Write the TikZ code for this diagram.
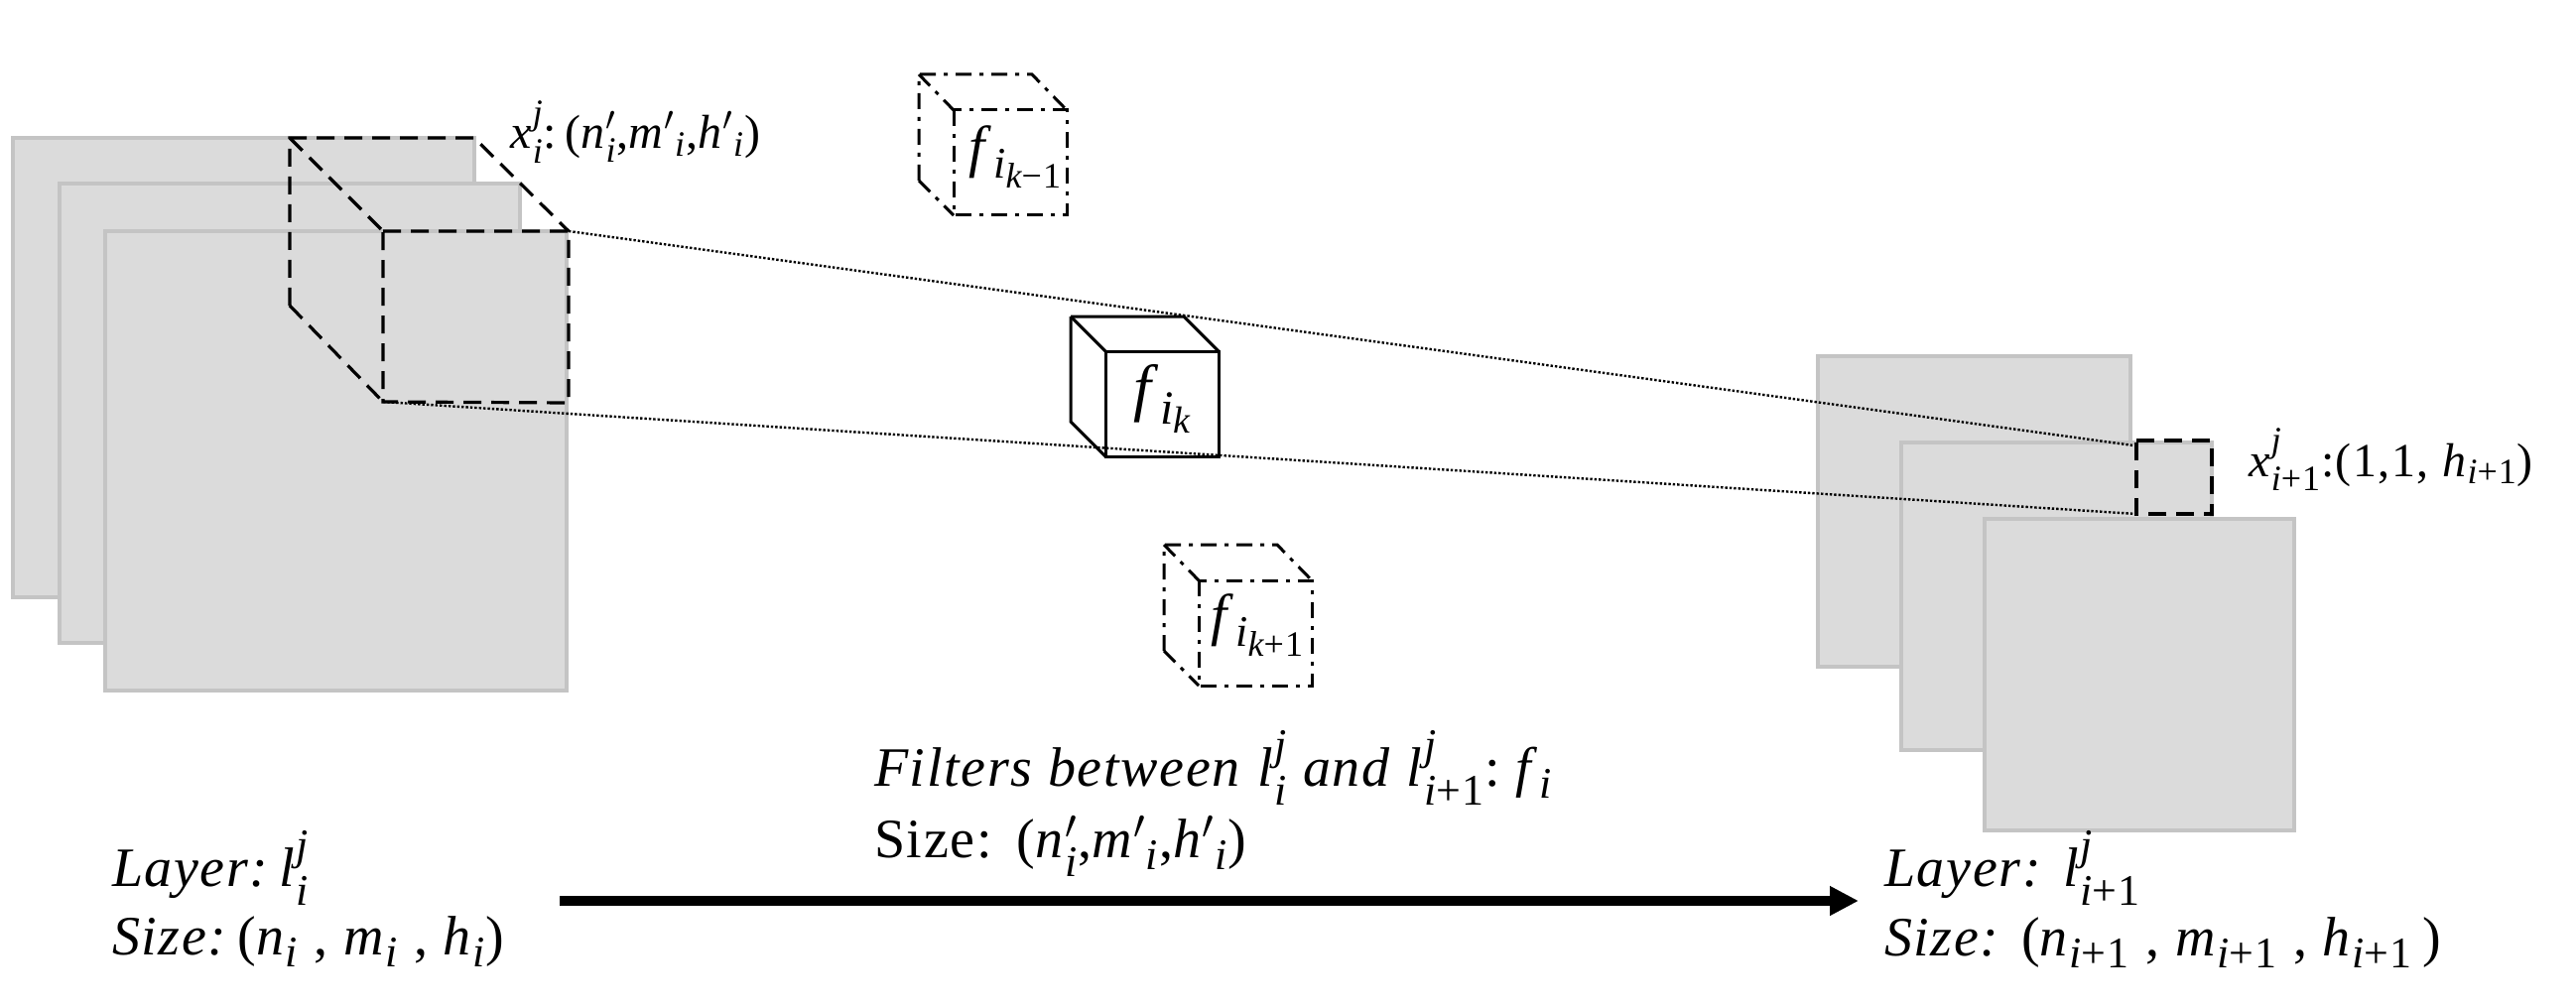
\documentclass[tikz,border=0pt]{standalone}
\usepackage{amsmath}
\usepackage{fontspec}
\setmainfont[LetterSpace=3]{Liberation Serif}
\usetikzlibrary{arrows.meta}
\definecolor{sheetfill}{HTML}{DBDBDB}
\definecolor{sheetline}{HTML}{C4C4C4}
\DeclareMathSizes{28}{28}{22}{17}
\DeclareMathSizes{24}{24}{18}{14}
\DeclareMathSizes{32}{32}{24}{19}
\DeclareMathSizes{29}{29}{22}{18}
\newcommand{\mi}[1]{\textit{#1}}
\newcommand{\ipo}{\textit{i}\textup{+1}}
\tikzset{
  sheet/.style={fill=sheetfill,draw=sheetline,line width=1.7pt},
  dashbox/.style={draw=black,line width=1.6pt,dash pattern=on 9pt off 5pt},
  dashdotbox/.style={draw=black,line width=1.5pt,dash pattern=on 8pt off 4pt on 2pt off 4pt},
  solidbox/.style={draw=black,line width=1.5pt,line join=miter},
  dotline/.style={draw=black,line width=1.2pt,dash pattern=on 1.2pt off 1pt},
  bigarrow/.style={draw=black,line width=5pt,-{Triangle[length=14.5pt,width=14pt]}},
  lab/.style={anchor=base west,inner sep=0pt,outer sep=0pt,font=\fontsize{28}{32}\selectfont},
  smalllab/.style={anchor=base west,inner sep=0pt,outer sep=0pt,font=\fontsize{24}{28}\selectfont},
  flab/.style={anchor=center,inner sep=0pt,outer sep=0pt,font=\fontsize{32}{36}\selectfont},
  flabsmall/.style={anchor=center,inner sep=0pt,outer sep=0pt,font=\fontsize{29}{34}\selectfont},
}
\begin{document}
\begin{tikzpicture}[x=0.5pt,y=-0.5pt]
\useasboundingbox (0,0) rectangle (2596,1016);
% left stack
\draw[sheet] (13,139) rectangle (478,602);
\draw[sheet] (60,185) rectangle (524,648);
\draw[sheet] (106,233) rectangle (571,696);
% right stack, back sheets
\draw[sheet] (1832,359) rectangle (2147,672);
\draw[sheet] (1916,446) rectangle (2229,756);
% receptive region on the left
\coordinate (bTL) at (292,139);
\coordinate (bTR) at (478,139);
\coordinate (bBL) at (292,308);
\coordinate (fTL) at (386,233);
\coordinate (fTR) at (573,233);
\coordinate (fBR) at (573,406);
\coordinate (fBL) at (386,405);
\draw[dashbox] (fTL) -- (fTR) -- (fBR) -- (fBL) -- cycle;
\draw[dashbox] (bBL) -- (bTL) -- (bTR) -- (fTR);
\draw[dashbox] (bTL) -- (fTL);
\draw[dashbox] (bBL) -- (fBL);
% output cell
\coordinate (oTL) at (2153,444);
\coordinate (oTR) at (2229,444);
\coordinate (oBR) at (2229,518);
\coordinate (oBL) at (2153,518);
\coordinate (oT) at (2150,449);
\draw[dashbox] (oTL) -- (oTR) -- (oBR) -- (oBL) -- cycle;
\draw[sheet] (2000,523) rectangle (2312,837);
% active filter
\draw[solidbox] (1114,354) rectangle (1228,460);
\draw[solidbox] (1079,319) -- (1193,319) -- (1228,354);
\draw[solidbox] (1079,319) -- (1114,354);
\draw[solidbox] (1079,319) -- (1079,425) -- (1114,460);
% receptive lines
\draw[dotline] (fTR) -- (oT);
\draw[dotline] (fBL) -- (oBL);
% upper filter
\draw[dashdotbox] (961,111) rectangle (1075,217);
\draw[dashdotbox] (926,182) -- (926,75) -- (1040,75) -- (1075,111);
\draw[dashdotbox] (926,75) -- (961,111);
\draw[dashdotbox] (926,182) -- (961,217);
% lower filter
\draw[dashdotbox] (1208,585) rectangle (1322,691);
\draw[dashdotbox] (1173,656) -- (1173,549) -- (1287,549) -- (1322,585);
\draw[dashdotbox] (1173,549) -- (1208,585);
\draw[dashdotbox] (1173,656) -- (1208,691);
% filter labels
\node[flab] (fk) at (1172,402) {\mi{f}$_{\mi{i}_{\mi{k}}}$};
\node[flabsmall] (fkm) at (1024,158) {\mi{f}$_{\mi{i}_{\mi{k}\textup{−1}}}$};
\node[flabsmall] (fkp) at (1268,630) {\mi{f}$_{\mi{i}_{\mi{k}\textup{+1}}}$};
% region labels
\node[smalllab] (xi) at (514,150) {\mi{x}$^{\mi{j}}_{\mi{i}}$:\,(\mi{n}$'_{\mi{i}}$,\mi{m}$'$$_{\mi{i}}$,\mi{h}$'$$_{\mi{i}}$)};
\node[smalllab] (xo) at (2266,480) {\mi{x}$^{\mi{j}}_{\ipo}$:(1,1, \mi{h}$_{\ipo}$)};
% bottom labels
\node[lab] (la) at (113,893) {\mi{Layer:}\,\mi{l}$^{\mi{j}}_{\mi{i}}$};
\node[lab] (sa) at (113,962) {\mi{Size:}\,(\mi{n}$_{\mi{i}}$ ,\;\mi{m}$_{\mi{i}}$ ,\;\mi{h}$_{\mi{i}}$)};
\node[lab] (lf) at (881,792) {\mi{Filters between} \mi{l}$^{\mi{j}}_{\mi{i}}$ \mi{and} \mi{l}$^{\mi{j}}_{\ipo}$:\;\mi{f}$_{\mi{i}}$};
\node[lab] (sf) at (881,864) {Size:\ \,(\mi{n}$'_{\mi{i}}$,\mi{m}$'$$_{\mi{i}}$,\mi{h}$'$$_{\mi{i}}$)};
\node[lab] (lo) at (1899,893) {\mi{Layer:} \mi{l}$^{\mi{j}}_{\ipo}$};
\node[lab] (so) at (1899,963) {\mi{Size:} (\mi{n}$_{\ipo}$ , \mi{m}$_{\ipo}$ ,\;\mi{h}$_{\ipo}$\,)};
% flow arrow
\coordinate (as) at (564,908);
\coordinate (ae) at (1873,908);
\draw[bigarrow] (as) -- (ae);
\end{tikzpicture}
\end{document}
